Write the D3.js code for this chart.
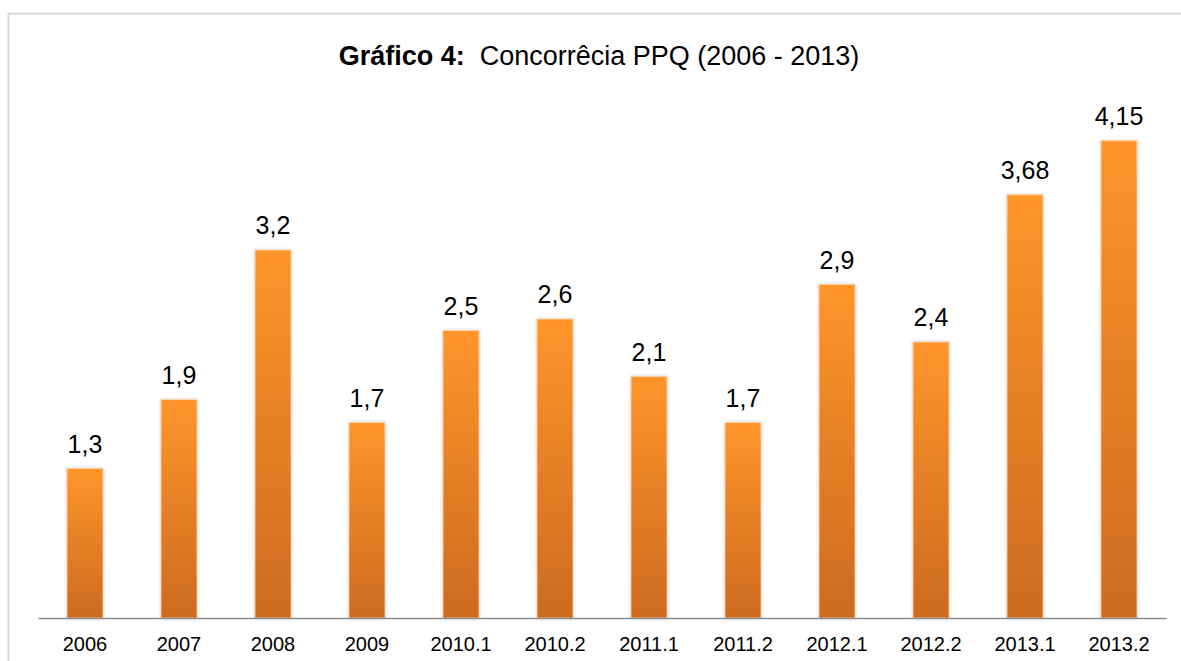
<!DOCTYPE html>
<html>
<head>
<meta charset="utf-8">
<script src="https://cdn.jsdelivr.net/npm/d3@7"></script>
<style>
  body { margin: 0; background: #fff; }
  svg { display: block; font-family: "Liberation Sans", Arial, sans-serif; }
</style>
</head>
<body>
<svg id="svg" width="1181" height="661"></svg>
<script>
var categories = ["2006", "2007", "2008", "2009", "2010.1", "2010.2", "2011.1", "2011.2", "2012.1", "2012.2", "2013.1", "2013.2"];
var values = [1.3, 1.9, 3.2, 1.7, 2.5, 2.6, 2.1, 1.7, 2.9, 2.4, 3.68, 4.15];
var valueLabels = ["1,3", "1,9", "3,2", "1,7", "2,5", "2,6", "2,1", "1,7", "2,9", "2,4", "3,68", "4,15"];

var svg = d3.select("#svg");

// frame
svg.append("path")
  .attr("d", "M8.5,661 V13.5 H1181")
  .attr("fill", "none")
  .attr("stroke", "#d9d9d9")
  .attr("stroke-width", 2);

var defs = svg.append("defs");
var grad = defs.append("linearGradient")
  .attr("id", "barGrad")
  .attr("x1", 0).attr("y1", 0).attr("x2", 0).attr("y2", 1);
grad.append("stop").attr("offset", "0%").attr("stop-color", "#ff952b");
grad.append("stop").attr("offset", "100%").attr("stop-color", "#cd6a1f");

var shadow = defs.append("filter")
  .attr("id", "glow")
  .attr("x", "-30%").attr("y", "-10%").attr("width", "160%").attr("height", "120%");
shadow.append("feGaussianBlur").attr("in", "SourceAlpha").attr("stdDeviation", 1.6).attr("result", "b");
shadow.append("feFlood").attr("flood-color", "#9a9a9a").attr("flood-opacity", 0.55);
shadow.append("feComposite").attr("in2", "b").attr("operator", "in").attr("result", "s");
var merge = shadow.append("feMerge");
merge.append("feMergeNode").attr("in", "s");
merge.append("feMergeNode").attr("in", "SourceGraphic");

var xScale = d3.scaleBand()
  .domain(categories)
  .range([38, 1166])
  .paddingInner(0.617)
  .paddingOuter(0.3085);

var yScale = d3.scaleLinear()
  .domain([0, 5])
  .range([618, 43]);

// title
var title = svg.append("text")
  .attr("x", 599)
  .attr("y", 65)
  .attr("text-anchor", "middle")
  .attr("font-size", 27)
  .attr("fill", "#000");
title.append("tspan").attr("font-weight", "bold").text("Gráfico 4:");
title.append("tspan").text("\u00a0 Concorrêcia PPQ (2006 - 2013)");

// bars
svg.append("g")
  .selectAll("rect")
  .data(values)
  .enter()
  .append("rect")
  .attr("x", (d, i) => xScale(categories[i]))
  .attr("y", d => yScale(d))
  .attr("width", xScale.bandwidth())
  .attr("height", d => yScale(0) - yScale(d))
  .attr("fill", "url(#barGrad)")
  .attr("stroke", "#ffd9b3")
  .attr("stroke-width", 0.8)
  .attr("filter", "url(#glow)");

// value labels
svg.append("g")
  .selectAll("text")
  .data(values)
  .enter()
  .append("text")
  .attr("x", (d, i) => xScale(categories[i]) + xScale.bandwidth() / 2)
  .attr("y", d => yScale(d) - 16)
  .attr("text-anchor", "middle")
  .attr("font-size", 25)
  .attr("fill", "#000")
  .text((d, i) => valueLabels[i]);

// x axis
var xAxis = svg.append("g")
  .attr("transform", "translate(0," + yScale(0) + ")")
  .call(d3.axisBottom(xScale).tickSize(0).tickSizeOuter(0));

xAxis.attr("font-size", 20).attr("font-family", "Liberation Sans, Arial, sans-serif");

xAxis.select(".domain")
  .attr("stroke", "#8c8c8c")
  .attr("stroke-width", 1.5);

xAxis.selectAll("text")
  .attr("y", 33)
  .attr("dy", 0)
  .attr("fill", "#000");
</script>
</body>
</html>
